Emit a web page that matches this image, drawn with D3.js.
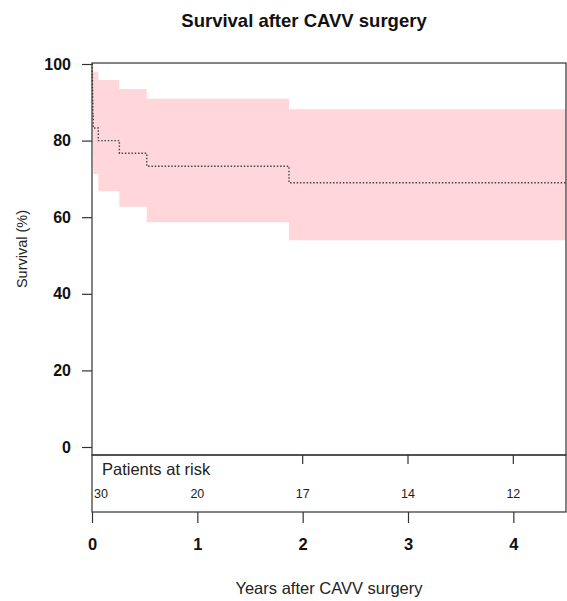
<!DOCTYPE html>
<html>
<head>
<meta charset="utf-8">
<script src="https://cdn.jsdelivr.net/npm/d3@7"></script>
<style>
  body { margin: 0; background: #fff; }
  svg { font-family: "Liberation Sans", Arial, sans-serif; }
</style>
</head>
<body>
<div id="chart"></div>
<script>
  const WIDTH = 567;
  const HEIGHT = 601;
  const BAND_COLOR = '#ffd6d9';
  const LINE_COLOR = '#444444';

  // Kaplan-Meier estimate (years, % surviving)
  const times = [0, 0.002, 0.004, 0.006, 0.008, 0.012, 0.06, 0.26, 0.52, 1.87, 4.5];
  const survival = [100, 96.7, 93.3, 90, 86.7, 83.3, 80, 76.7, 73.3, 69.0, 69.0];
  const upper = [100, 100, 99.5, 99, 98.5, 98.0, 95.8, 93.5, 90.9, 88.2, 88.2];
  const lower = [100, 90.5, 85.5, 80.5, 76, 71.3, 66.8, 62.7, 58.7, 54.0, 54.0];

  const yTicks = [0, 20, 40, 60, 80, 100];
  const xTicks = [0, 1, 2, 3, 4];
  const riskTimes = [0, 1, 2, 3, 4];
  const riskCounts = [30, 20, 17, 14, 12];

  const margin = { top: 63, right: 1, bottom: 89, left: 92 };
  const plotBottom = 455;
  const riskBottom = 512;

  var x = d3.scaleLinear()
    .domain([0, 4.5])
    .range([margin.left, WIDTH - margin.right]);

  var y = d3.scaleLinear()
    .domain([0, 100])
    .range([447, 64]);

  var svg = d3.select('#chart').append('svg')
    .attr('width', WIDTH)
    .attr('height', HEIGHT);

  var data = times.map(function (t, i) {
    return { t: t, s: survival[i], hi: upper[i], lo: lower[i] };
  });

  // confidence band
  var area = d3.area()
    .curve(d3.curveStepAfter)
    .x(function (d) { return x(d.t); })
    .y0(function (d) { return y(d.lo); })
    .y1(function (d) { return y(d.hi); });

  svg.append('path')
    .datum(data)
    .attr('d', area)
    .style('fill', BAND_COLOR);

  // survival curve
  var line = d3.line()
    .curve(d3.curveStepAfter)
    .x(function (d) { return x(d.t); })
    .y(function (d) { return y(d.s); });

  svg.append('path')
    .datum(data)
    .attr('d', line)
    .style('fill', 'none')
    .style('stroke', LINE_COLOR)
    .style('stroke-width', 1.4)
    .style('stroke-dasharray', '1.5,1.8');

  // plot box and risk table box
  svg.append('rect')
    .attr('x', x(0)).attr('y', margin.top)
    .attr('width', x(4.5) - x(0)).attr('height', plotBottom - margin.top)
    .style('fill', 'none').style('stroke', '#333').style('stroke-width', 1.2);

  svg.append('rect')
    .attr('x', x(0)).attr('y', plotBottom)
    .attr('width', x(4.5) - x(0)).attr('height', riskBottom - plotBottom)
    .style('fill', 'none').style('stroke', '#333').style('stroke-width', 1.2);

  // y axis
  var yAxis = d3.axisLeft(y)
    .tickValues(yTicks)
    .tickSize(10)
    .tickPadding(11);

  var gy = svg.append('g')
    .attr('transform', 'translate(' + x(0) + ',0)')
    .call(yAxis);
  gy.select('.domain').remove();
  gy.selectAll('line').style('stroke', '#333').style('stroke-width', 1.2);
  gy.selectAll('text')
    .style('font-size', '16px')
    .style('font-weight', 'bold')
    .style('fill', '#111');

  // x axis under risk table
  var xAxis = d3.axisBottom(x)
    .tickValues(xTicks)
    .tickFormat(d3.format('d'))
    .tickSize(11)
    .tickPadding(15);

  var gx = svg.append('g')
    .attr('transform', 'translate(0,' + riskBottom + ')')
    .call(xAxis);
  gx.select('.domain').remove();
  gx.selectAll('line').style('stroke', '#333').style('stroke-width', 1.2);
  gx.selectAll('text')
    .style('font-size', '16.5px')
    .style('font-weight', 'bold')
    .style('fill', '#111');

  // small ticks at top of risk table
  svg.selectAll('.risk-tick')
    .data(xTicks.filter(function (d) { return d >= 2; }))
    .enter().append('line')
    .attr('x1', function (d) { return x(d); })
    .attr('x2', function (d) { return x(d); })
    .attr('y1', plotBottom)
    .attr('y2', plotBottom + 9)
    .style('stroke', '#333').style('stroke-width', 1.2);

  svg.append('text')
    .attr('x', x(0) + 10)
    .attr('y', 475)
    .style('font-size', '16.5px')
    .style('fill', '#222')
    .text('Patients at risk');

  svg.selectAll('.risk-count')
    .data(riskTimes)
    .enter().append('text')
    .attr('x', function (d, i) { return i === 0 ? x(d) + 2 : x(d); })
    .attr('y', 498)
    .attr('text-anchor', function (d, i) { return i === 0 ? 'start' : 'middle'; })
    .style('font-size', '12.5px')
    .style('fill', '#222')
    .text(function (d, i) { return riskCounts[i]; });

  // titles
  svg.append('text')
    .attr('x', 304)
    .attr('y', 27)
    .attr('text-anchor', 'middle')
    .style('font-size', '18.5px')
    .style('font-weight', 'bold')
    .style('fill', '#111')
    .text('Survival after CAVV surgery');

  svg.append('text')
    .attr('transform', 'translate(27,249) rotate(-90)')
    .attr('text-anchor', 'middle')
    .style('font-size', '14.5px')
    .style('fill', '#222')
    .text('Survival (%)');

  svg.append('text')
    .attr('x', 329)
    .attr('y', 594)
    .attr('text-anchor', 'middle')
    .style('font-size', '16.5px')
    .style('fill', '#222')
    .text('Years after CAVV surgery');
</script>
</body>
</html>
